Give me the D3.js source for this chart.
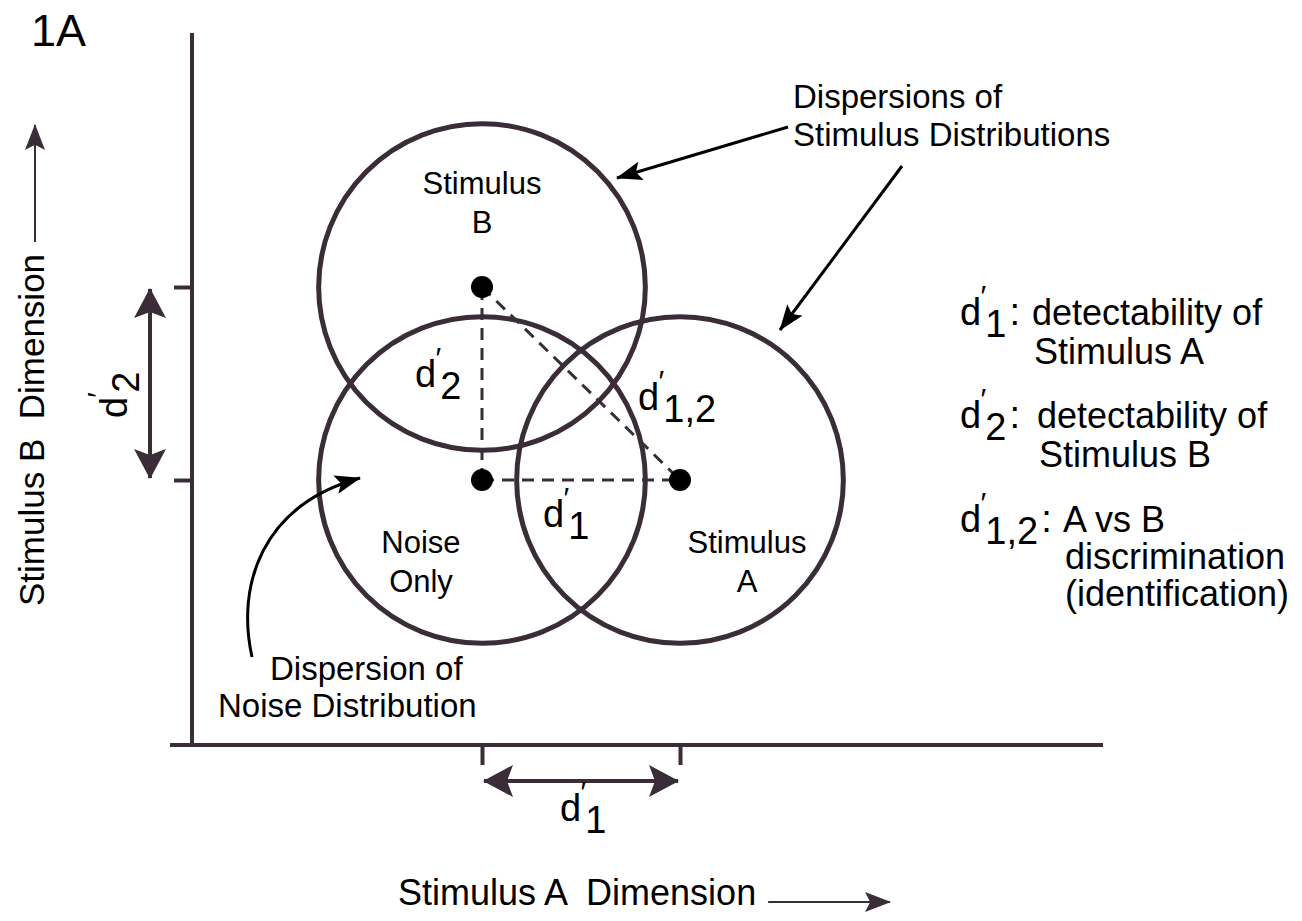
<!DOCTYPE html>
<html>
<head>
<meta charset="utf-8">
<script src="https://cdn.jsdelivr.net/npm/d3@7"></script>
<style>
  body { margin: 0; background: #fff; }
  svg { display: block; }
</style>
</head>
<body>
<div id="chart"></div>
<script>
// distributions in d' units (A dimension, B dimension)
const distNames = [['Noise', 'Only'], ['Stimulus', 'A'], ['Stimulus', 'B']]
const distA = [0, 1, 0]
const distB = [0, 0, 1]
const spread = 0.825
const tickA = [0, 1]
const tickB = [0, 1]
const legendSubs = ['1', '2', '1,2']
const legendText = [
  ['detectability of', 'Stimulus A'],
  ['detectability of', 'Stimulus B'],
  ['A vs B', 'discrimination', '(identification)']
]

const width = 1302
const height = 921
const axisColor = '#3a2d38'
const font = "'Liberation Sans', Arial, Helvetica, sans-serif"

const x = d3.scaleLinear().domain([0, 1]).range([482, 680])
const y = d3.scaleLinear().domain([0, 1]).range([480, 287])
const xMin = x.invert(192)
const xMax = x.invert(1103)
const yMin = y.invert(745)
const yMax = y.invert(33)

const svg = d3.select('#chart')
  .append('svg')
  .attr('width', width)
  .attr('height', height)
  .attr('font-family', font)

const defs = svg.append('defs')

const marker = (id, len, wid, color) => {
  defs.append('marker')
    .attr('id', id)
    .attr('markerUnits', 'userSpaceOnUse')
    .attr('viewBox', `0 0 ${len} ${wid}`)
    .attr('markerWidth', len)
    .attr('markerHeight', wid)
    .attr('refX', len - 1)
    .attr('refY', wid / 2)
    .attr('orient', 'auto-start-reverse')
    .append('path')
    .attr('d', `M0,0 L${len},${wid / 2} L0,${wid} L${len * 0.2},${wid / 2} Z`)
    .attr('fill', color)
}
marker('headBig', 30, 32, axisColor)
marker('headMid', 26, 19, '#000')
marker('headSmall', 26, 20, axisColor)

// panel label
svg.append('text')
  .attr('x', 31)
  .attr('y', 46)
  .attr('font-size', 45)
  .text('1A')

// axes
svg.append('line')
  .attr('x1', x(xMin))
  .attr('x2', x(xMin))
  .attr('y1', y(yMax))
  .attr('y2', y(yMin) + 2)
  .attr('stroke', axisColor)
  .attr('stroke-width', 4)

svg.append('line')
  .attr('x1', x(xMin) - 22)
  .attr('x2', x(xMax))
  .attr('y1', y(yMin))
  .attr('y2', y(yMin))
  .attr('stroke', axisColor)
  .attr('stroke-width', 4)

const xAxis = svg.append('g')
  .attr('transform', `translate(0,${y(yMin)})`)
  .call(d3.axisBottom(x).tickValues(tickA).tickFormat('').tickSize(20).tickSizeOuter(0))
xAxis.select('.domain').remove()
xAxis.selectAll('line').attr('stroke', axisColor).attr('stroke-width', 4)

const yAxis = svg.append('g')
  .attr('transform', `translate(${x(xMin)},0)`)
  .call(d3.axisLeft(y).tickValues(tickB).tickFormat('').tickSize(18).tickSizeOuter(0))
yAxis.select('.domain').remove()
yAxis.selectAll('line').attr('stroke', axisColor).attr('stroke-width', 4)

// d' label: d, prime, subscript
const dPrime = (g, px, py, sub, size) => {
  const t = g.append('text')
    .attr('x', px)
    .attr('y', py)
    .attr('font-size', size)
  t.append('tspan').text('d')
  t.append('tspan')
    .attr('dx', -size * 0.02)
    .attr('dy', -size * 0.5)
    .attr('font-size', size * 0.8)
    .text('′')
  t.append('tspan')
    .attr('dx', -size * 0.02)
    .attr('dy', size * 0.82)
    .text(sub)
  return t
}

// circles
const circles = svg.append('g')
circles.selectAll('circle')
  .data(distA)
  .enter()
  .append('circle')
  .attr('cx', d => x(d))
  .attr('cy', (d, i) => y(distB[i]))
  .attr('r', x(spread) - x(0))
  .attr('fill', 'none')
  .attr('stroke', axisColor)
  .attr('stroke-width', 5)

// dashed connectors
const pairs = [[0, 1], [0, 2], [2, 1]]
svg.append('g')
  .selectAll('line')
  .data(pairs)
  .enter()
  .append('line')
  .attr('x1', d => x(distA[d[0]]))
  .attr('y1', d => y(distB[d[0]]))
  .attr('x2', d => x(distA[d[1]]))
  .attr('y2', d => y(distB[d[1]]))
  .attr('stroke', axisColor)
  .attr('stroke-width', 3)
  .attr('stroke-dasharray', '12,8')

svg.append('g')
  .selectAll('circle')
  .data(distA)
  .enter()
  .append('circle')
  .attr('cx', d => x(d))
  .attr('cy', (d, i) => y(distB[i]))
  .attr('r', 11)
  .attr('fill', '#000')

// labels inside circles
const labelShift = [[-61, 73], [67, 73], [0, -93]]
distNames.forEach((lines, i) => {
  const t = svg.append('text')
    .attr('text-anchor', 'middle')
    .attr('font-size', 31)
  lines.forEach((s, j) => {
    t.append('tspan')
      .attr('x', x(distA[i]) + labelShift[i][0])
      .attr('y', y(distB[i]) + labelShift[i][1] + j * 39)
      .text(s)
  })
})

// d' labels on the diagram
dPrime(svg, 415, 387, '2', 38)
dPrime(svg, 638, 410, '1,2', 38)
dPrime(svg, 543, 527, '1', 38)

// d' double arrows
svg.append('line')
  .attr('x1', x(0) + 2)
  .attr('x2', x(1) - 2)
  .attr('y1', y(yMin) + 36)
  .attr('y2', y(yMin) + 36)
  .attr('stroke', axisColor)
  .attr('stroke-width', 4)
  .attr('marker-start', 'url(#headBig)')
  .attr('marker-end', 'url(#headBig)')
dPrime(svg, 560, 821, '1', 38)

svg.append('line')
  .attr('x1', 150)
  .attr('x2', 150)
  .attr('y1', y(1) + 2)
  .attr('y2', y(0) - 2)
  .attr('stroke', axisColor)
  .attr('stroke-width', 4)
  .attr('marker-start', 'url(#headBig)')
  .attr('marker-end', 'url(#headBig)')
const d2g = svg.append('g').attr('transform', 'translate(127,418) rotate(-90)')
dPrime(d2g, 0, 0, '2', 38)

// axis titles
const xTitle = svg.append('text')
  .attr('x', 398)
  .attr('y', 905)
  .attr('font-size', 36)
  .attr('xml:space', 'preserve')
  .text('Stimulus A  Dimension')
const xEnd = 398 + xTitle.node().getComputedTextLength()
svg.append('line')
  .attr('x1', xEnd + 12)
  .attr('x2', 890)
  .attr('y1', 902)
  .attr('y2', 902)
  .attr('stroke', axisColor)
  .attr('stroke-width', 2)
  .attr('marker-end', 'url(#headSmall)')

const yTitle = svg.append('text')
  .attr('transform', 'translate(44,606) rotate(-90)')
  .attr('font-size', 35)
  .attr('xml:space', 'preserve')
  .text('Stimulus B  Dimension')
const yEnd = 606 - yTitle.node().getComputedTextLength()
svg.append('line')
  .attr('x1', 35)
  .attr('x2', 35)
  .attr('y1', yEnd - 12)
  .attr('y2', 125)
  .attr('stroke', axisColor)
  .attr('stroke-width', 2)
  .attr('marker-end', 'url(#headSmall)')

// dispersion annotations
const stimNote = svg.append('text').attr('font-size', 33)
stimNote.append('tspan').attr('x', 793).attr('y', 108).text('Dispersions of')
stimNote.append('tspan').attr('x', 793).attr('y', 146).text('Stimulus Distributions')

svg.append('line')
  .attr('x1', 788).attr('y1', 127)
  .attr('x2', 617).attr('y2', 178)
  .attr('stroke', '#000').attr('stroke-width', 3)
  .attr('marker-end', 'url(#headMid)')
svg.append('line')
  .attr('x1', 902).attr('y1', 166)
  .attr('x2', 780).attr('y2', 330)
  .attr('stroke', '#000').attr('stroke-width', 3)
  .attr('marker-end', 'url(#headMid)')

const noiseNote = svg.append('text').attr('font-size', 33)
noiseNote.append('tspan').attr('x', 270).attr('y', 680).text('Dispersion of')
noiseNote.append('tspan').attr('x', 218).attr('y', 717).text('Noise Distribution')

svg.append('path')
  .attr('d', 'M252,657 C236,585 262,505 360,478')
  .attr('fill', 'none')
  .attr('stroke', '#000')
  .attr('stroke-width', 3)
  .attr('marker-end', 'url(#headMid)')

// legend
const legendY = [325, 428, 532]
const legendTextX = [1032, 1037, 1063]
legendSubs.forEach((s, i) => {
  const t = dPrime(svg, 960, legendY[i], s, 38)
  t.append('tspan')
    .attr('dx', 3)
    .attr('dy', -38 * 0.32)
    .text(':')
  const body = svg.append('text').attr('font-size', 36)
  legendText[i].forEach((line, j) => {
    body.append('tspan')
      .attr('x', legendTextX[i] + (j > 0 ? 2 : 0))
      .attr('y', legendY[i] + j * (i === 2 ? 37 : 39))
      .text(line)
  })
})
</script>
</body>
</html>
